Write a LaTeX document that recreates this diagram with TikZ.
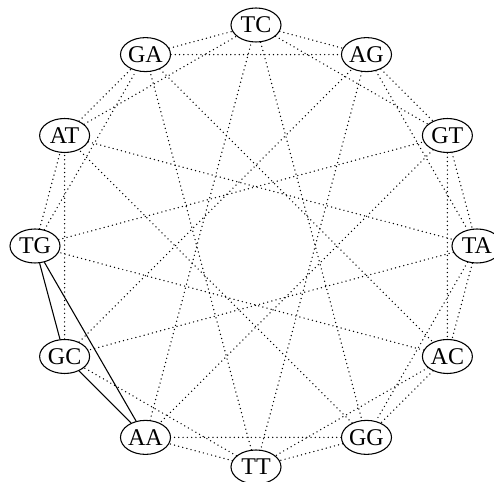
\documentclass[tikz,border=0pt]{standalone}
\usepackage{fontspec}
\setmainfont{Liberation Serif}
\usetikzlibrary{shapes.geometric}
\begin{document}
\begin{tikzpicture}[x=0.75pt,y=0.75pt,
  vertex/.style={draw, ellipse, line width=0.8pt, fill=white, inner sep=0pt,
    minimum width=37.5pt, minimum height=25.5pt,
    font=\fontsize{18}{18}\selectfont},
  dotedge/.style={line width=1.1pt, line cap=round, dash pattern=on 0pt off 3.2pt},
  solidedge/.style={line width=0.8pt}]
\useasboundingbox (0,0) rectangle (494,482);
% vertices on a circle, clockwise from the top
\foreach \lab [count=\k from 0] in {TC,AG,GT,TA,AC,GG,TT,AA,GC,TG,AT,GA} {
  \node[vertex] (v\k) at ([shift={(256,236)}] {90-30*\k}:221) {\lab};
}
% circulant connections with offsets 1, 2 and 5
\foreach \i in {0,...,11} {
  \foreach \d in {1,2,5} {
    \pgfmathtruncatemacro{\j}{mod(\i+\d,12)}
    \pgfmathtruncatemacro{\solid}{(\i==7 && \d<3) || (\i==8 && \d==1) ? 1 : 0}
    \ifnum\solid=0
      \draw[dotedge] (v\i) -- (v\j);
    \fi
  }
}
% the solid triangle TG - GC - AA
\draw[solidedge] (v9) -- (v8);
\draw[solidedge] (v9) -- (v7);
\draw[solidedge] (v8) -- (v7);
\end{tikzpicture}
\end{document}
